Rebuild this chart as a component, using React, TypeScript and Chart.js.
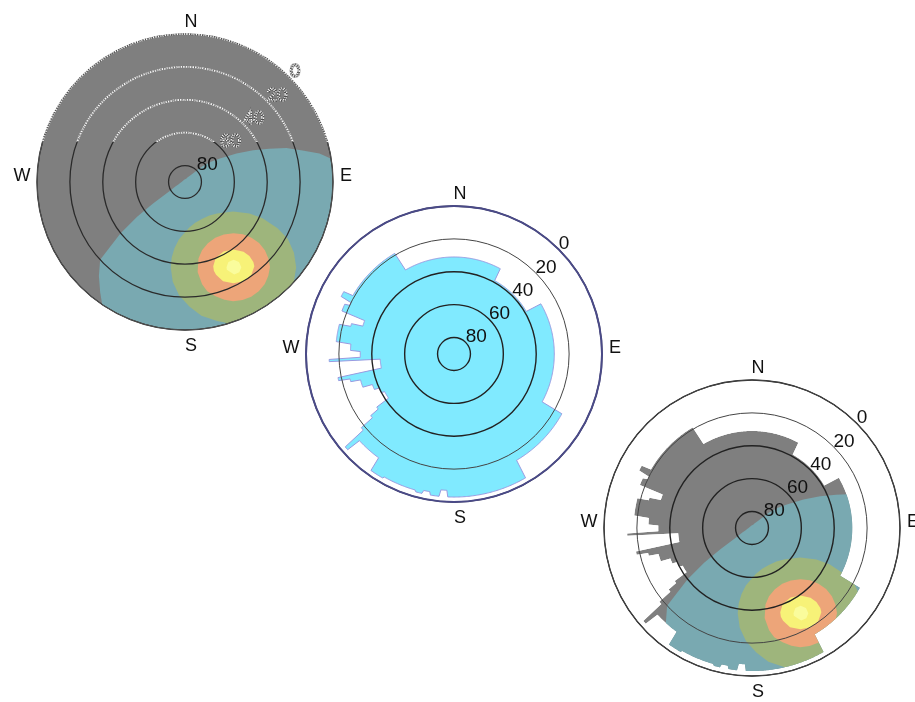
import React, { useEffect, useRef } from 'react';
import { Chart, registerables } from 'chart.js';

Chart.register(...registerables);

// ---------------- axes ----------------
const AZ_STEP = 0.5;
const azimuthLabels: string[] = Array.from({ length: 360 / AZ_STEP }, (_, i) => String(i * AZ_STEP));
const elevationTicks = [0, 20, 40, 60, 80];
const compassLabels = ['N', 'E', 'S', 'W'];

// ---------------- horizon profile (step start azimuth, elevation) ----------------
const horizonStartAz = [0, 29, 60, 119, 150, 183, 186, 190, 193, 196, 210, 216, 228, 230, 232, 234, 236, 242, 246, 250, 255, 257, 259, 266.5, 268, 272, 276, 285, 287, 291, 295, 297, 300, 330];
const horizonElev = [31, 39, 29, 15, 3, 7, 3, 5, 3, 4, 3, 12, 3, 18, 27, 33, 42, 40, 37, 31, 25, 18, 45, 14, 33, 27, 18, 25, 32, 17, 20, 13, 19, 31];

// open sky (no obstruction)
const openSkyStartAz = [0];
const openSkyElev = [0];

// ---------------- sun-hours map ----------------
const tealAz = [0, 20, 30, 40, 45, 48, 52, 56, 61, 65, 68.5, 71.5, 75, 78, 81, 90, 100, 110, 120, 130, 140, 150, 160, 170, 180, 190, 200, 210, 214, 217.5, 222.5, 227.5, 231.5, 234, 236, 240, 245, 250, 260, 270, 285, 300, 320, 340];
const tealElev = [88.4, 87.9, 86.7, 84.4, 80.7, 76, 70, 64.4, 54.2, 44.3, 35, 25, 16, 6.4, 0, 0, 0, 0, 0, 0, 0, 0, 0, 0, 0, 0, 0, 0, 0, 5.3, 12.5, 20, 39.8, 54, 66.8, 79.5, 83.5, 85.7, 87.2, 87.9, 88.4, 88.6, 88.7, 88.6];

const greenOuterAz = [115, 116.5, 119, 123, 127.5, 132.5, 133, 140, 147, 154, 161, 163, 165, 167, 173, 178, 183, 187, 189.5, 190];
const greenOuterElev = [38, 27.1, 18.5, 11, 4.8, 0.2, 0, 0, 0, 0, 0, 0, 1.8, 3.2, 8.1, 14.2, 21.1, 28.9, 37.4, 43.4];
const greenInnerAz = [115, 116, 121.5, 134.5, 144, 155.5, 166, 175, 186, 189, 190];
const greenInnerElev = [38, 46.4, 55.6, 62.7, 64.8, 65.3, 64.4, 62.1, 55, 49.3, 43.4];

const orangeOuterAz = [129.5, 130.5, 132.5, 135, 138.5, 142, 146, 150, 154, 158, 161.5, 165, 168.5, 170.5, 172];
const orangeOuterElev = [31.6, 26.1, 21.2, 16.9, 13.6, 11.2, 9.8, 9.5, 10.2, 11.8, 14.5, 18, 22.2, 27, 34.8];
const orangeInnerAz = [129.5, 130, 132, 136.5, 143.5, 151.5, 159.5, 166, 170, 172];
const orangeInnerElev = [31.6, 37.2, 42.6, 47.1, 50.3, 51.4, 50.3, 47.2, 42.8, 34.8];

const yellowOuterAz = [139, 139.5, 140.5, 144.5, 149.5, 154.5, 159, 161.5, 162];
const yellowOuterElev = [30.3, 26, 23.7, 20.6, 20, 21.7, 25.4, 30.5, 33.2];
const yellowInnerAz = [139, 140, 144.5, 151, 158, 161.5, 162];
const yellowInnerElev = [30.3, 34.6, 39.5, 41.6, 40.2, 35.9, 33.2];

const spotOuterAz = [146, 146.5, 149, 152, 154.5];
const spotOuterElev = [31.3, 27.9, 25.9, 26.3, 30.9];
const spotInnerAz = [146, 148, 151.5, 154, 154.5];
const spotInnerElev = [31.3, 34.2, 34.7, 32.4, 30.9];

const COLORS = {
  gray: '#7f7f7f',
  teal: '#79a9b1',
  green: '#9eb57c',
  orange: '#eda579',
  yellow: '#f7f278',
  spot: '#fafc9c',
  cyan: '#80eaff',
  cyanBorder: '#9a9ae0',
};

const FONT = '"Liberation Sans", Arial, Helvetica, sans-serif';
const CANVAS = 376;
const PAD = 40;

function stepSeries(starts: number[], elevs: number[]) {
  return azimuthLabels.map((_, i) => {
    const az = i * AZ_STEP;
    let k = 0;
    for (let j = 0; j < starts.length; j++) if (az >= starts[j]) k = j;
    return elevs[k];
  });
}

function sparseSeries(az: number[], el: number[]) {
  const out: (number | null)[] = azimuthLabels.map(() => null);
  az.forEach((a, i) => {
    out[Math.round(a / AZ_STEP) % out.length] = el[i];
  });
  return out;
}

type Panel = {
  left: number;
  top: number;
  baseStart: number[];
  baseElev: number[];
  baseColor: string;
  baseBorder?: string;
  sun: boolean;
  clip: boolean;
  speckle: boolean;
  ringColor: (v: number) => string;
  ringWidth: (v: number) => number;
  edgeColor: string;
  edgeWidth: number;
};

function buildDatasets(p: Panel) {
  const ds: any[] = [];
  const common = { pointRadius: 0, pointHoverRadius: 0, pointHitRadius: 0, borderWidth: 0, spanGaps: true, tension: 0 };
  if (p.sun) {
    const blobs: [number[], number[], number[], number[], string][] = [
      [spotOuterAz, spotOuterElev, spotInnerAz, spotInnerElev, COLORS.spot],
      [yellowOuterAz, yellowOuterElev, yellowInnerAz, yellowInnerElev, COLORS.yellow],
      [orangeOuterAz, orangeOuterElev, orangeInnerAz, orangeInnerElev, COLORS.orange],
      [greenOuterAz, greenOuterElev, greenInnerAz, greenInnerElev, COLORS.green],
    ];
    blobs.forEach(([oa, oe, ia, ie, color]) => {
      const innerIndex = ds.length + 1;
      ds.push({ ...common, data: sparseSeries(oa, oe), backgroundColor: color, borderColor: 'transparent', fill: innerIndex });
      ds.push({ ...common, data: sparseSeries(ia, ie), backgroundColor: 'transparent', borderColor: 'transparent', fill: false });
    });
    ds.push({ ...common, data: sparseSeries(tealAz, tealElev), backgroundColor: COLORS.teal, borderColor: 'transparent', fill: 'start' });
  }
  ds.push({
    ...common,
    spanGaps: false,
    data: stepSeries(p.baseStart, p.baseElev),
    backgroundColor: p.baseColor,
    borderColor: p.baseBorder || 'transparent',
    borderWidth: p.baseBorder ? 1 : 0,
    fill: 'start',
  });
  return ds;
}

function speckleStroke(ctx: CanvasRenderingContext2D, draw: () => void, wide = 1.8) {
  ctx.save();
  ctx.setLineDash([1.5, 0.9]);
  ctx.lineWidth = wide;
  ctx.strokeStyle = 'rgba(255,255,255,0.95)';
  draw();
  ctx.setLineDash([0.9, 2.2]);
  ctx.lineDashOffset = 0.6;
  ctx.lineWidth = 0.9;
  ctx.strokeStyle = 'rgba(60,60,60,0.9)';
  draw();
  ctx.restore();
}

function speckleText(ctx: CanvasRenderingContext2D, text: string, x: number, y: number) {
  ctx.save();
  ctx.lineWidth = 1.6;
  ctx.strokeStyle = 'rgba(70,70,70,0.9)';
  ctx.strokeText(text, x, y);
  ctx.setLineDash([1.2, 1.3]);
  ctx.lineWidth = 1.2;
  ctx.strokeStyle = 'rgba(255,255,255,0.95)';
  ctx.strokeText(text, x, y);
  ctx.restore();
}

function makePlugin(p: Panel) {
  return {
    id: 'skyDecor',
    beforeDraw(chart: any) {
      if (!p.clip) return;
      const line = chart.getDatasetMeta(chart.data.datasets.length - 1).dataset;
      const ctx = chart.ctx;
      ctx.save();
      ctx.beginPath();
      line.path(ctx);
      ctx.closePath();
      ctx.clip();
    },
    afterDatasetsDraw(chart: any) {
      if (p.clip) chart.ctx.restore();
    },
    afterDraw(chart: any) {
      const ctx: CanvasRenderingContext2D = chart.ctx;
      const s = chart.scales.r;
      const cx = s.xCenter;
      const cy = s.yCenter;
      const R = s.getDistanceFromCenterForValue(0);
      ctx.save();
      ctx.beginPath();
      ctx.arc(cx, cy, R, 0, Math.PI * 2);
      ctx.strokeStyle = p.edgeColor;
      ctx.lineWidth = p.edgeWidth;
      ctx.stroke();

      if (p.speckle) {
        ctx.save();
        ctx.beginPath();
        ctx.rect(0, 0, chart.width, cy - 40);
        ctx.clip();
        [20, 40, 60].forEach((v) => {
          ctx.beginPath();
          ctx.arc(cx, cy, s.getDistanceFromCenterForValue(v), 0, Math.PI * 2);
          ctx.strokeStyle = COLORS.gray;
          ctx.lineWidth = 2.6;
          ctx.stroke();
        });
        speckleStroke(ctx, () => {
          [0, 20, 40, 60].forEach((v) => {
            ctx.beginPath();
            ctx.arc(cx, cy, s.getDistanceFromCenterForValue(v), 0, Math.PI * 2);
            ctx.stroke();
          });
        });
        ctx.restore();
      }

      // elevation labels along the 45° azimuth
      ctx.font = `19px ${FONT}`;
      ctx.textAlign = 'left';
      ctx.textBaseline = 'alphabetic';
      const labelIndex = Math.round(45 / AZ_STEP);
      elevationTicks.forEach((v) => {
        const pt = s.getPointPositionForValue(labelIndex, v);
        const text = String(v);
        if (p.speckle && v < 80) {
          speckleText(ctx, text, pt.x, pt.y);
        } else {
          ctx.fillStyle = '#111';
          ctx.fillText(text, pt.x, pt.y);
        }
      });

      // compass labels
      ctx.font = `18px ${FONT}`;
      ctx.textAlign = 'center';
      ctx.textBaseline = 'middle';
      ctx.fillStyle = '#111';
      const pos = [
        [cx + 6, cy - R - 12],
        [cx + R + 13, cy - 6],
        [cx + 6, cy + R + 16],
        [cx - R - 15, cy - 6],
      ];
      compassLabels.forEach((t, i) => ctx.fillText(t, pos[i][0], pos[i][1]));
      ctx.restore();
    },
  };
}

function SkyPanel({ panel }: { panel: Panel }) {
  const ref = useRef<HTMLCanvasElement | null>(null);
  useEffect(() => {
    if (!ref.current) return;
    const chart = new Chart(ref.current, {
      type: 'radar',
      data: { labels: azimuthLabels, datasets: buildDatasets(panel) },
      options: {
        responsive: false,
        animation: false,
        events: [],
        layout: { padding: PAD },
        plugins: { legend: { display: false }, tooltip: { enabled: false }, filler: { propagate: false } },
        scales: {
          r: {
            min: 0,
            max: 90,
            reverse: true,
            ticks: { display: false, stepSize: 20 },
            grid: {
              circular: true,
              z: 1,
              color: (c: any) => (c.tick && c.tick.value < 90 ? panel.ringColor(c.tick.value) : 'transparent'),
              lineWidth: (c: any) => (c.tick ? panel.ringWidth(c.tick.value) : 1),
            },
            angleLines: { display: false },
            pointLabels: { display: false },
          },
        },
      } as any,
      plugins: [makePlugin(panel) as any],
    });
    return () => chart.destroy();
  }, []);
  return (
    <canvas
      ref={ref}
      width={CANVAS}
      height={CANVAS}
      style={{ position: 'absolute', left: panel.left, top: panel.top, width: CANVAS, height: CANVAS }}
    />
  );
}

const panels: Panel[] = [
  {
    left: 185 - CANVAS / 2,
    top: 182 - CANVAS / 2,
    baseStart: openSkyStartAz,
    baseElev: openSkyElev,
    baseColor: COLORS.gray,
    sun: true,
    clip: true,
    speckle: true,
    ringColor: () => '#2a2a2a',
    ringWidth: () => 1.3,
    edgeColor: '#505050',
    edgeWidth: 1,
  },
  {
    left: 454 - CANVAS / 2,
    top: 354 - CANVAS / 2,
    baseStart: horizonStartAz,
    baseElev: horizonElev,
    baseColor: COLORS.cyan,
    baseBorder: COLORS.cyanBorder,
    sun: false,
    clip: false,
    speckle: false,
    ringColor: (v) => (v === 20 ? '#444' : '#222'),
    ringWidth: (v) => (v === 20 ? 1 : 1.4),
    edgeColor: '#4a4a88',
    edgeWidth: 2,
  },
  {
    left: 752 - CANVAS / 2,
    top: 528 - CANVAS / 2,
    baseStart: horizonStartAz,
    baseElev: horizonElev,
    baseColor: COLORS.gray,
    sun: true,
    clip: true,
    speckle: false,
    ringColor: (v) => (v === 20 ? '#444' : '#222'),
    ringWidth: (v) => (v === 20 ? 1 : 1.4),
    edgeColor: '#444',
    edgeWidth: 1,
  },
];

export default function App() {
  return (
    <div style={{ position: 'fixed', left: 0, top: 0, width: 915, height: 702, overflow: 'hidden', background: '#fff' }}>
      {panels.map((p, i) => (
        <SkyPanel key={i} panel={p} />
      ))}
    </div>
  );
}
